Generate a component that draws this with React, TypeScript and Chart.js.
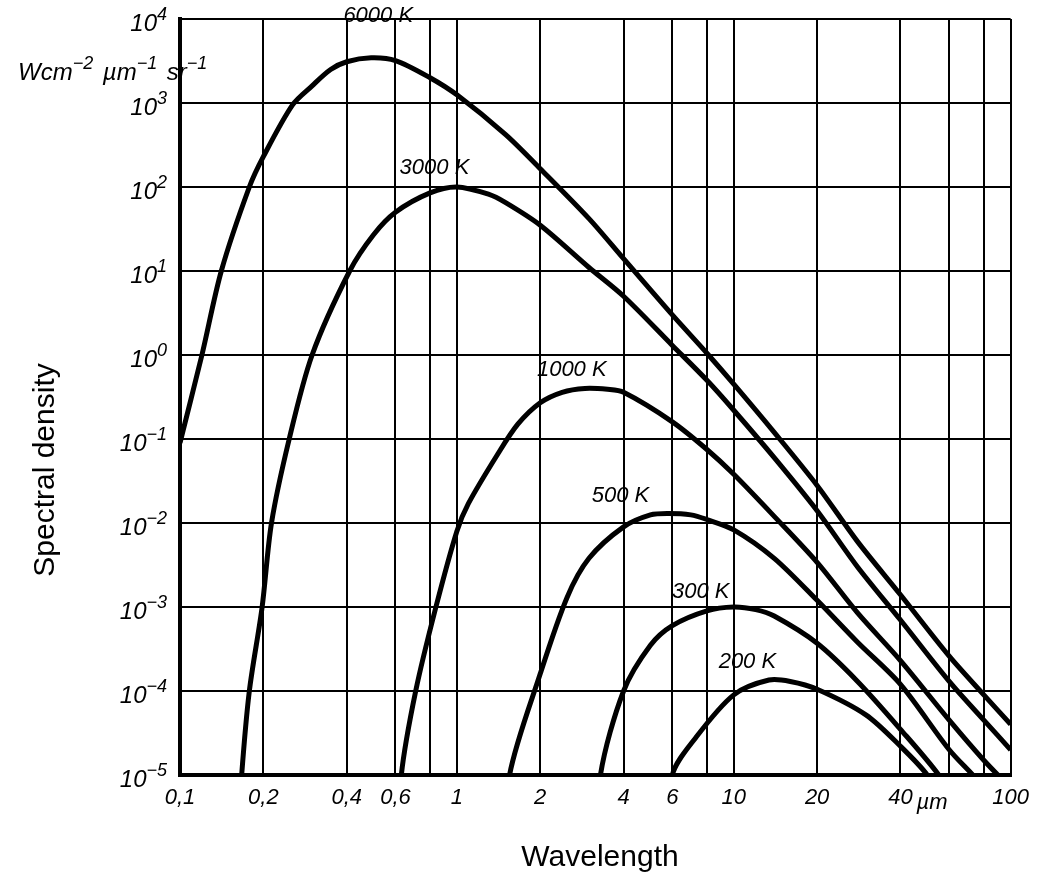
import { useEffect, useRef } from 'react'
import { Chart, registerables } from 'chart.js'

Chart.register(...registerables)

// wavelength (µm) and spectral density (W cm^-2 µm^-1 sr^-1)
const wl6000 = [0.1, 0.12, 0.141, 0.178, 0.2, 0.255, 0.3, 0.35, 0.4, 0.49, 0.6, 0.8, 1, 1.5, 2, 3, 4, 6, 8, 10, 14, 20, 28, 40, 60, 80, 100]
const val6000 = [0.09, 1, 10, 100, 230, 950, 1600, 2500, 3100, 3450, 3200, 2000, 1250, 420, 165, 42, 14, 3, 1.05, 0.45, 0.12, 0.028, 6e-3, 1.4e-3, 2.6e-4, 9e-5, 4e-5]
const wl3000 = [0.16, 0.167, 0.178, 0.198, 0.214, 0.248, 0.3, 0.41, 0.5, 0.6, 0.8, 1, 1.3, 1.5, 2, 3, 4, 6, 8, 10, 14, 20, 28, 40, 60, 80, 100]
const val3000 = [1e-6, 1e-5, 1e-4, 1e-3, 1e-2, 0.1, 1, 10, 27, 50, 85, 100, 82, 65, 35, 11, 5, 1.3, 0.5, 0.22, 0.06, 0.014, 3e-3, 7e-4, 1.3e-4, 4.5e-5, 2e-5]
const wl1000 = [0.61, 0.63, 0.71, 0.84, 1, 1.1, 1.4, 1.66, 2, 2.4, 2.9, 3.5, 4, 6, 8, 10, 14, 20, 28, 40, 60, 80, 100]
const val1000 = [1e-6, 1e-5, 1e-4, 1e-3, 8e-3, 0.017, 0.065, 0.15, 0.27, 0.36, 0.4, 0.39, 0.36, 0.16, 0.075, 0.038, 0.012, 3.4e-3, 8.5e-4, 2.3e-4, 4.5e-5, 1.5e-5, 7e-6]
const wl500 = [1.5, 1.55, 2, 2.5, 3, 4, 5, 5.8, 7, 8, 10, 14, 20, 28, 40, 60, 80, 90]
const val500 = [1e-6, 1e-5, 1.6e-4, 1.3e-3, 3.8e-3, 9e-3, 0.0125, 0.013, 0.0125, 0.011, 8.3e-3, 3.8e-3, 1.2e-3, 3.8e-4, 1.2e-4, 2e-5, 7e-6, 3e-6]
const wl300 = [3.2, 3.3, 4, 5, 6, 8, 10, 12, 14, 20, 28, 40, 55, 65]
const val300 = [1e-6, 1e-5, 1e-4, 3.5e-4, 6e-4, 9e-4, 1e-3, 9.3e-4, 7.8e-4, 3.7e-4, 1.3e-4, 3.5e-5, 1e-5, 4e-6]
const wl200 = [5.8, 6, 7.3, 10, 13.4, 16, 20, 30, 40, 50, 56]
const val200 = [1e-6, 1e-5, 2.8e-5, 9e-5, 1.35e-4, 1.3e-4, 1.05e-4, 5.2e-5, 2.2e-5, 1e-5, 5e-6]

const xGrid = [0.1, 0.2, 0.4, 0.6, 0.8, 1, 2, 4, 6, 8, 10, 20, 40, 60, 80, 100]
const xLabels: Record<number, string> = { 0.1: '0,1', 0.2: '0,2', 0.4: '0,4', 0.6: '0,6', 1: '1', 2: '2', 4: '4', 6: '6', 10: '10', 20: '20', 40: '40', 100: '100' }
const yTicks = [1e-5, 1e-4, 1e-3, 1e-2, 1e-1, 1, 10, 100, 1000, 10000]
const yExponents = ['−5', '−4', '−3', '−2', '−1', '0', '1', '2', '3', '4']

// curve labels: text, wavelength, value
const curveLabels: [string, number, number][] = [
  ['6000 K', 0.52, 11000],
  ['3000 K', 0.83, 170],
  ['1000 K', 2.6, 0.66],
  ['500 K', 3.9, 0.021],
  ['300 K', 7.6, 1.5e-3],
  ['200 K', 11.2, 2.2e-4],
]

const FAM = '"Liberation Sans", Arial, sans-serif'
const ITALIC = `italic 22px ${FAM}`

// draws [text, isSuperscript] runs starting at x
function drawRuns(ctx: CanvasRenderingContext2D, runs: [string, boolean][], x: number, y: number, size: number) {
  for (const [t, sup] of runs) {
    ctx.font = `italic ${sup ? Math.round(size * 0.75) : size}px ${FAM}`
    ctx.fillText(t, x, sup ? y - size * 0.45 : y)
    x += ctx.measureText(t).width + (sup ? 3 : 0)
  }
  return x
}

function runsWidth(ctx: CanvasRenderingContext2D, runs: [string, boolean][], size: number) {
  let w = 0
  for (const [t, sup] of runs) {
    ctx.font = `italic ${sup ? Math.round(size * 0.75) : size}px ${FAM}`
    w += ctx.measureText(t).width + (sup ? 3 : 0)
  }
  return w
}

const textPlugin = {
  id: 'texts',
  afterDraw(chart: any) {
    const { ctx, scales } = chart
    ctx.save()
    ctx.fillStyle = '#000'
    ctx.font = ITALIC
    ctx.textAlign = 'center'
    ctx.textBaseline = 'middle'
    for (const [t, x, y] of curveLabels) {
      ctx.fillText(t, scales.x.getPixelForValue(x), scales.y.getPixelForValue(y))
    }
    ctx.textAlign = 'left'
    ctx.textBaseline = 'alphabetic'
    ctx.fillText('µm', scales.x.getPixelForValue(40) + 16, 809)
    yTicks.forEach((v, i) => {
      const runs: [string, boolean][] = [['10', false], [yExponents[i], true]]
      const w = runsWidth(ctx, runs, 24)
      drawRuns(ctx, runs, 170 - w, scales.y.getPixelForValue(v) + 12, 24)
    })
    drawRuns(ctx, [['Wcm', false], ['−2', true], [' µm', false], ['−1', true], [' sr', false], ['−1', true]], 18, 80, 24)
    ctx.font = `30px ${FAM}`
    ctx.textAlign = 'center'
    ctx.textBaseline = 'middle'
    ctx.fillText('Wavelength', 600, 858)
    ctx.translate(46, 470)
    ctx.rotate(-Math.PI / 2)
    ctx.fillText('Spectral density', 0, 0)
    ctx.restore()
  },
}

function BlackbodyChart() {
  const canvasRef = useRef<HTMLCanvasElement>(null)

  useEffect(() => {
    if (!canvasRef.current) return
    const series = [
      [wl6000, val6000],
      [wl3000, val3000],
      [wl1000, val1000],
      [wl500, val500],
      [wl300, val300],
      [wl200, val200],
    ]
    const chart = new Chart(canvasRef.current, {
      type: 'line',
      data: {
        datasets: series.map(([xs, ys]) => ({
          data: xs.map((x, i) => ({ x, y: ys[i] })),
          borderColor: '#000',
          borderWidth: 5,
          pointRadius: 0,
          tension: 0.3,
          fill: false,
        })),
      },
      options: {
        responsive: false,
        animation: false,
        layout: { padding: { top: 19, right: 22, left: 0, bottom: 0 } },
        plugins: { legend: { display: false }, tooltip: { enabled: false } },
        scales: {
          x: {
            type: 'logarithmic',
            min: 0.1,
            max: 100,
            afterBuildTicks: (s: any) => { s.ticks = xGrid.map((value) => ({ value })) },
            afterFit: (s: any) => { s.height = 110 },
            grid: { color: '#000', lineWidth: 2, drawTicks: false },
            border: { color: '#000', width: 4 },
            ticks: {
              color: '#000',
              font: { family: FAM, size: 22, style: 'italic' },
              padding: 10,
              maxRotation: 0,
              autoSkip: false,
              callback: (v: any) => xLabels[Number(v)] ?? '',
            },
          },
          y: {
            type: 'logarithmic',
            min: 1e-5,
            max: 1e4,
            afterBuildTicks: (s: any) => { s.ticks = yTicks.map((value) => ({ value })) },
            afterFit: (s: any) => { s.width = 180 },
            grid: { color: '#000', lineWidth: 2, drawTicks: false },
            border: { color: '#000', width: 4 },
            ticks: { display: false },
          },
        },
      },
      plugins: [textPlugin],
    })
    return () => chart.destroy()
  }, [])

  return <canvas ref={canvasRef} width={1039} height={885} />
}

export default function App() {
  return (
    <div style={{ position: 'absolute', left: 0, top: 0, width: 1039, height: 885, background: '#fff' }}>
      <BlackbodyChart />
    </div>
  )
}
